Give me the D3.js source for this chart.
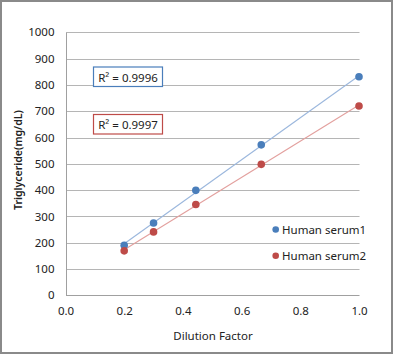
<!DOCTYPE html>
<html><head><meta charset="utf-8">
<script src="https://cdn.jsdelivr.net/npm/d3@7"></script>
<style>body{margin:0;background:#fff}svg{display:block;font-family:"Noto Sans",sans-serif}</style>
</head><body>
<svg id="c" width="394" height="355"></svg>
<script>
const dilution = [0.2, 0.3, 0.444, 0.667, 1.0];
const serum1 = [190, 275, 399, 572, 831];
const serum2 = [169, 241, 345, 498, 720];
const seriesNames = ["Human serum1", "Human serum2"];
const r2Labels = ["R² = 0.9996", "R² = 0.9997"];
const yTicks = [0,100,200,300,400,500,600,700,800,900,1000];
const xTicks = [0.0,0.2,0.4,0.6,0.8,1.0];
const colors = ["#4a7ebb", "#be4b48"];
const lineColors = ["#9bb7dd", "#e3a09e"];

const svg = d3.select("#c");
svg.append("rect").attr("x",1).attr("y",1).attr("width",391).attr("height",352)
  .attr("fill","#fff").attr("stroke","#8a8a8a").attr("stroke-width",2);

const x = d3.scaleLinear().domain([0,1]).range([65.5,359]);
const y = d3.scaleLinear().domain([0,1000]).range([295.3,32.3]);

// gridlines
svg.append("g").selectAll("line").data(yTicks.filter(d=>d>0)).join("line")
  .attr("x1",66.5).attr("x2",359.5).attr("y1",d=>Math.round(y(d))+0.5).attr("y2",d=>Math.round(y(d))+0.5)
  .attr("stroke","#b5b5b5").attr("stroke-width",1);

// axes
const yAxis = d3.axisLeft(y).tickValues(yTicks).tickSize(0).tickPadding(12).tickFormat(d3.format("d"));
const gy = svg.append("g").attr("transform","translate(66.5,0)").call(yAxis);
gy.select(".domain").attr("stroke","#a0a0a0").attr("d","M0,"+y(1000)+"V"+(y(0)+0.5));
gy.selectAll("text").attr("font-size","11.5px").attr("fill","#222").attr("font-family","Noto Sans");

const xAxis = d3.axisBottom(x).tickValues(xTicks).tickSize(0).tickPadding(11).tickFormat(d3.format(".1f"));
const gx = svg.append("g").attr("transform","translate(0,"+(Math.round(y(0))+0.5)+")").call(xAxis);
gx.select(".domain").attr("stroke","#a0a0a0").attr("d","M66,0H359.5");
gx.selectAll("text").attr("font-size","11.5px").attr("fill","#222").attr("font-family","Noto Sans");

// trendlines + points
const data = [serum1, serum2];
data.forEach((vals,i)=>{
  const mx = d3.mean(dilution), my = d3.mean(vals);
  let sxy=0,sxx=0;
  dilution.forEach((xv,k)=>{sxy+=(xv-mx)*(vals[k]-my);sxx+=(xv-mx)*(xv-mx);});
  const b = sxy/sxx, a = my-b*mx;
  const x0 = d3.min(dilution), x1 = d3.max(dilution);
  svg.append("line").attr("x1",x(x0)).attr("y1",y(a+b*x0)).attr("x2",x(x1)).attr("y2",y(a+b*x1))
    .attr("stroke",lineColors[i]).attr("stroke-width",1.1);
});
data.forEach((vals,i)=>{
  svg.append("g").selectAll("circle").data(vals).join("circle")
    .attr("cx",(d,k)=>x(dilution[k])).attr("cy",d=>y(d)).attr("r",3.8).attr("fill",colors[i]);
});

// R2 boxes
const boxY = [67, 114.5];
r2Labels.forEach((t,i)=>{
  svg.append("rect").attr("x",93.5).attr("y",boxY[i]).attr("width",69).attr("height",19.5)
    .attr("fill","#fff").attr("stroke",colors[i]).attr("stroke-width",1.2);
  svg.append("text").attr("x",128).attr("y",boxY[i]+10).attr("text-anchor","middle")
    .attr("dominant-baseline","central").attr("font-size","11.5px").attr("fill","#222").text(t);
});

// legend
const legY = [229.5, 255.7];
seriesNames.forEach((s,i)=>{
  svg.append("circle").attr("cx",275.7).attr("cy",legY[i]).attr("r",3.3).attr("fill",colors[i]);
  svg.append("text").attr("x",282).attr("y",legY[i]).attr("dominant-baseline","central")
    .attr("font-size","11.5px").attr("fill","#222").text(s);
});

// axis titles
svg.append("text").attr("transform","translate(17.5,160) rotate(-90)").attr("text-anchor","middle")
  .attr("dominant-baseline","central").attr("font-size","10.5px").attr("font-weight","600").attr("fill","#222").text("Triglyceride(mg/dL)");
svg.append("text").attr("x",213).attr("y",335).attr("text-anchor","middle").attr("dominant-baseline","central")
  .attr("font-size","11.5px").attr("fill","#222").text("Dilution Factor");
</script>
</body></html>
